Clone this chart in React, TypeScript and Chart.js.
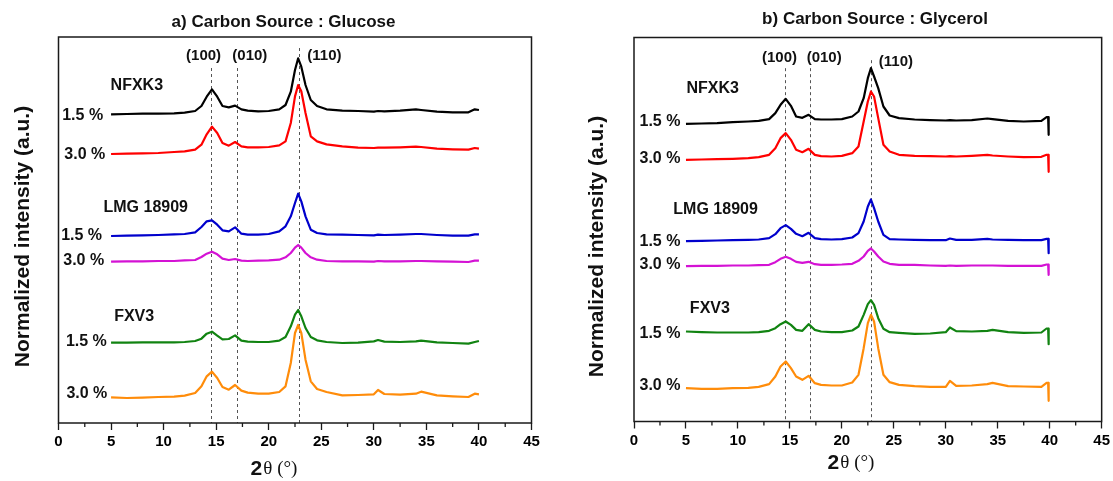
import React, { useEffect, useRef } from "react";
import { Chart, registerables } from "chart.js";
Chart.register(...registerables);

// ---- 2θ sample grids (degrees) ----
const xA = [5, 6.5, 8, 9.5, 11, 12, 13, 13.6, 14.1, 14.6, 15.1, 15.6, 16.2, 16.8, 17.4, 18, 19, 20, 21, 21.6, 22.1, 22.5, 22.8, 23.1, 23.5, 24, 24.6, 25.5, 27, 28.5, 30, 30.4, 31, 32.5, 34, 34.5, 36, 37.5, 39, 39.6, 40];
const xB = [5, 6.5, 8, 9.5, 11, 12, 13, 13.6, 14.1, 14.6, 15.1, 15.6, 16.2, 16.8, 17.4, 18, 19, 20, 21, 21.6, 22.1, 22.5, 22.8, 23.1, 23.5, 24, 24.6, 25.5, 27, 28.5, 30, 30.4, 31, 32.5, 34, 34.5, 36, 37.5, 39.2, 39.7, 39.85, 39.9];

// ---- a) Glucose : stacked normalized intensities (a.u.) ----
const aNFXK3_15 = [926, 927, 928, 928, 929, 931, 936, 951, 979, 1001, 979, 951, 947, 952, 941, 937, 935, 936, 941, 954, 994, 1059, 1094, 1069, 1014, 969, 951, 941, 937, 936, 934, 936, 935, 937, 941, 939, 934, 932, 932, 941, 939];
const aNFXK3_30 = [807, 808, 809, 810, 813, 815, 820, 835, 866, 889, 870, 840, 832, 843, 830, 827, 827, 828, 833, 845, 900, 980, 1014, 995, 930, 860, 845, 836, 830, 826, 825, 826, 826, 827, 829, 828, 823, 821, 820, 825, 823];
const aLMG_15 = [561, 562, 563, 564, 566, 567, 572, 588, 605, 608, 595, 578, 575, 587, 568, 565, 565, 567, 575, 590, 620, 660, 688, 665, 620, 580, 570, 566, 565, 564, 563, 565, 564, 565, 567, 567, 564, 562, 562, 566, 566];
const aLMG_30 = [484, 485, 485, 486, 486, 488, 489, 498, 508, 514, 506, 493, 489, 492, 487, 486, 487, 488, 490, 497, 510, 526, 534, 526, 510, 497, 490, 486, 485, 485, 484, 486, 485, 485, 486, 486, 485, 484, 483, 487, 487];
const aFXV3_15 = [241, 241, 242, 242, 242, 243, 246, 253, 268, 274, 262, 251, 252, 263, 247, 244, 243, 243, 247, 258, 290, 325, 339, 320, 285, 258, 248, 243, 240, 241, 245, 249, 244, 243, 245, 247, 242, 240, 238, 243, 246];
const aFXV3_30 = [77, 75, 76, 78, 79, 82, 90, 110, 140, 154, 135, 108, 100, 114, 97, 91, 88, 88, 93, 110, 180, 270, 294, 270, 190, 125, 102, 93, 83, 84, 86, 99, 87, 85, 88, 94, 83, 80, 78, 88, 86];

// ---- b) Glycerol ----
const bNFXK3_15 = [893, 894, 895, 898, 900, 902, 907, 925, 950, 968, 947, 915, 911, 920, 907, 906, 906, 907, 915, 930, 970, 1030, 1060, 1035, 1000, 945, 918, 910, 906, 904, 903, 904, 903, 904, 909, 907, 902, 900, 902, 913, 913, 860];
const bNFXK3_30 = [785, 786, 787, 788, 790, 793, 800, 820, 850, 865, 845, 815, 808, 818, 800, 796, 795, 797, 805, 825, 900, 960, 990, 975, 910, 830, 810, 800, 797, 796, 795, 796, 795, 797, 800, 798, 795, 793, 794, 800, 800, 749];
const bLMG_15 = [541, 542, 543, 544, 545, 546, 550, 562, 580, 589, 578, 563, 556, 566, 550, 547, 546, 547, 552, 565, 600, 645, 666, 640, 600, 560, 547, 546, 545, 544, 544, 549, 545, 545, 548, 546, 545, 544, 544, 548, 548, 505];
const bLMG_30 = [466, 467, 467, 468, 468, 469, 470, 478, 488, 494, 488, 479, 476, 479, 472, 470, 470, 471, 473, 482, 495, 512, 519, 510, 495, 480, 473, 470, 470, 468, 467, 468, 467, 468, 468, 468, 467, 467, 467, 471, 471, 440];
const bFXV3_15 = [270, 268, 267, 267, 267, 268, 272, 280, 292, 300, 290, 275, 272, 292, 275, 270, 268, 268, 273, 285, 320, 352, 364, 350, 310, 278, 268, 266, 263, 264, 268, 282, 271, 270, 272, 275, 268, 266, 267, 279, 279, 232];
const bFXV3_30 = [100, 98, 98, 100, 101, 104, 112, 135, 165, 180, 160, 135, 125, 137, 115, 110, 108, 108, 117, 140, 220, 295, 320, 300, 220, 140, 118, 110, 106, 104, 104, 122, 107, 108, 112, 116, 106, 105, 104, 116, 116, 62];

// ---- axis ticks ----
const majorTickStep = 5;
const minorTicks = [2.5, 7.5, 12.5, 17.5, 22.5, 27.5, 32.5, 37.5, 42.5];

// ---- peak reference lines (2θ, top of line in a.u.) ----
const peakNames = ["(100)", "(010)", "(110)"];
const peaksA = [14.55, 16.98, 22.88];
const peakTopsA = [1065, 1065, 1125];
const peaksB = [14.57, 16.96, 22.78];
const peakTopsB = [1060, 1060, 1084];

// ---- annotation texts (data coordinates) ----
const textA = [
  { t: "(100)", x: 13.8, y: 1101 },
  { t: "(010)", x: 18.2, y: 1101 },
  { t: "(110)", x: 25.3, y: 1101 },
  { t: "NFXK3", x: 7.45, y: 1011 },
  { t: "1.5 %", x: 2.3, y: 921 },
  { t: "3.0 %", x: 2.5, y: 804 },
  { t: "LMG 18909", x: 8.3, y: 646 },
  { t: "1.5 %", x: 2.2, y: 561 },
  { t: "3.0 %", x: 2.4, y: 486 },
  { t: "FXV3", x: 7.2, y: 318 },
  { t: "1.5 %", x: 2.65, y: 244 },
  { t: "3.0 %", x: 2.7, y: 87 },
];
const textB = [
  { t: "(100)", x: 14.0, y: 1090 },
  { t: "(010)", x: 18.3, y: 1090 },
  { t: "(110)", x: 25.2, y: 1078 },
  { t: "NFXK3", x: 7.57, y: 1000 },
  { t: "1.5 %", x: 2.5, y: 901 },
  { t: "3.0 %", x: 2.5, y: 790 },
  { t: "LMG 18909", x: 7.85, y: 637 },
  { t: "1.5 %", x: 2.5, y: 541 },
  { t: "3.0 %", x: 2.5, y: 472 },
  { t: "FXV3", x: 7.3, y: 340 },
  { t: "1.5 %", x: 2.5, y: 265 },
  { t: "3.0 %", x: 2.5, y: 109 },
];

const colors = ["#000000", "#ff0000", "#0000cc", "#d412d4", "#118311", "#ff8c0a"];

const SANS = "'Liberation Sans', Arial, sans-serif";
const SERIF = "'Liberation Serif', 'Times New Roman', serif";

type Cfg = {
  left: number;
  width: number;
  padL: number;
  padR: number;
  padT: number;
  axisH: number;
  yMax: number;
  xs: number[];
  series: number[][];
  peaks: number[];
  peakTops: number[];
  texts: { t: string; x: number; y: number }[];
  title: string;
  titleX: number;
  titleY: number;
  yTitleX: number;
  yTitleY: number;
  xTitleX: number;
  xTitleY: number;
};

const cfgA: Cfg = {
  left: 0, width: 560, padL: 58.5, padR: 28.5, padT: 37, axisH: 58, yMax: 1158,
  xs: xA, series: [aNFXK3_15, aNFXK3_30, aLMG_15, aLMG_30, aFXV3_15, aFXV3_30],
  peaks: peaksA, peakTops: peakTopsA, texts: textA,
  title: "a) Carbon Source : Glucose", titleX: 283.5, titleY: 22,
  yTitleX: 23, yTitleY: 236.5, xTitleX: 274, xTitleY: 469,
};
const cfgB: Cfg = {
  left: 560, width: 553, padL: 74, padR: 9, padT: 37.5, axisH: 59.5, yMax: 1152,
  xs: xB, series: [bNFXK3_15, bNFXK3_30, bLMG_15, bLMG_30, bFXV3_15, bFXV3_30],
  peaks: peaksB, peakTops: peakTopsB, texts: textB,
  title: "b) Carbon Source : Glycerol", titleX: 315, titleY: 19,
  yTitleX: 37, yTitleY: 246.5, xTitleX: 291, xTitleY: 463,
};

function Panel({ cfg }: { cfg: Cfg }) {
  const ref = useRef<HTMLCanvasElement>(null);
  useEffect(() => {
    const decor = {
      id: "decor",
      beforeDatasetsDraw(chart: any) {
        const { ctx, chartArea: a, scales } = chart;
        const x = scales.x, y = scales.y;
        ctx.save();
        ctx.strokeStyle = "#555";
        ctx.lineWidth = 1;
        ctx.setLineDash([3, 3]);
        cfg.peaks.forEach((p, i) => {
          const px = Math.round(x.getPixelForValue(p)) + 0.5;
          ctx.beginPath();
          ctx.moveTo(px, y.getPixelForValue(cfg.peakTops[i]));
          ctx.lineTo(px, a.bottom);
          ctx.stroke();
        });
        ctx.restore();
      },
      afterDraw(chart: any) {
        const { ctx, chartArea: a, scales } = chart;
        const x = scales.x, y = scales.y;
        ctx.save();
        // frame
        ctx.strokeStyle = "#1a1a1a";
        ctx.lineWidth = 1.5;
        ctx.strokeRect(a.left, a.top, a.right - a.left, a.bottom - a.top);
        // minor ticks
        ctx.lineWidth = 1.3;
        minorTicks.forEach((v) => {
          const px = x.getPixelForValue(v);
          ctx.beginPath();
          ctx.moveTo(px, a.bottom);
          ctx.lineTo(px, a.bottom + 4);
          ctx.stroke();
        });
        // annotations
        ctx.fillStyle = "#111";
        ctx.textAlign = "center";
        ctx.textBaseline = "middle";
        cfg.texts.forEach((tx) => {
          ctx.font = peakNames.includes(tx.t) ? `bold 15px ${SANS}` : `bold 16px ${SANS}`;
          ctx.fillText(tx.t, x.getPixelForValue(tx.x), y.getPixelForValue(tx.y));
        });
        // title
        ctx.font = `bold 17px ${SANS}`;
        ctx.fillText(cfg.title, cfg.titleX, cfg.titleY);
        // y title
        ctx.save();
        ctx.translate(cfg.yTitleX, cfg.yTitleY);
        ctx.rotate(-Math.PI / 2);
        ctx.font = `bold 21px ${SANS}`;
        ctx.fillText("Normalized intensity (a.u.)", 0, 0);
        ctx.restore();
        // x title: 2θ (°)
        ctx.textAlign = "left";
        ctx.font = `bold 21px ${SANS}`;
        const w1 = ctx.measureText("2").width;
        ctx.font = `19px ${SERIF}`;
        const w2 = ctx.measureText("θ (°)").width;
        const sx = cfg.xTitleX - (w1 + 1 + w2) / 2;
        ctx.font = `bold 21px ${SANS}`;
        ctx.fillText("2", sx, cfg.xTitleY);
        ctx.font = `19px ${SERIF}`;
        ctx.fillText("θ (°)", sx + w1 + 1, cfg.xTitleY);
        ctx.restore();
      },
    };

    const chart = new Chart(ref.current as HTMLCanvasElement, {
      type: "line",
      data: {
        datasets: cfg.series.map((vals, si) => ({
          data: cfg.xs.map((xv, i) => ({ x: xv, y: vals[i] })),
          borderColor: colors[si],
          borderWidth: 2.2,
          pointRadius: 0,
          tension: 0,
          fill: false,
          borderJoinStyle: "round" as const,
        })),
      },
      options: {
        responsive: false,
        animation: false,
        events: [],
        layout: { padding: { left: cfg.padL, right: cfg.padR, top: cfg.padT, bottom: 0 } },
        plugins: { legend: { display: false }, tooltip: { enabled: false }, title: { display: false } },
        scales: {
          x: {
            type: "linear",
            min: 0,
            max: 45,
            afterFit: (s: any) => {
              s.height = cfg.axisH;
            },
            ticks: {
              stepSize: majorTickStep,
              autoSkip: false,
              maxRotation: 0,
              padding: 3,
              color: "#000",
              font: { family: SANS, weight: "bold", size: 15 },
            },
            grid: {
              drawOnChartArea: false,
              drawTicks: true,
              tickLength: 7,
              tickColor: "#1a1a1a",
              tickWidth: 1.3,
            },
            border: { display: false },
          },
          y: { display: false, min: 0, max: cfg.yMax },
        },
      } as any,
      plugins: [decor],
    });
    return () => chart.destroy();
  }, [cfg]);
  return (
    <canvas
      ref={ref}
      width={cfg.width}
      height={481}
      style={{ position: "absolute", left: cfg.left, top: 0, width: cfg.width, height: 481 }}
    />
  );
}

export default function App() {
  return (
    <div style={{ position: "fixed", left: 0, top: 0, width: 1113, height: 481, background: "#fff", overflow: "hidden" }}>
      <Panel cfg={cfgA} />
      <Panel cfg={cfgB} />
    </div>
  );
}
